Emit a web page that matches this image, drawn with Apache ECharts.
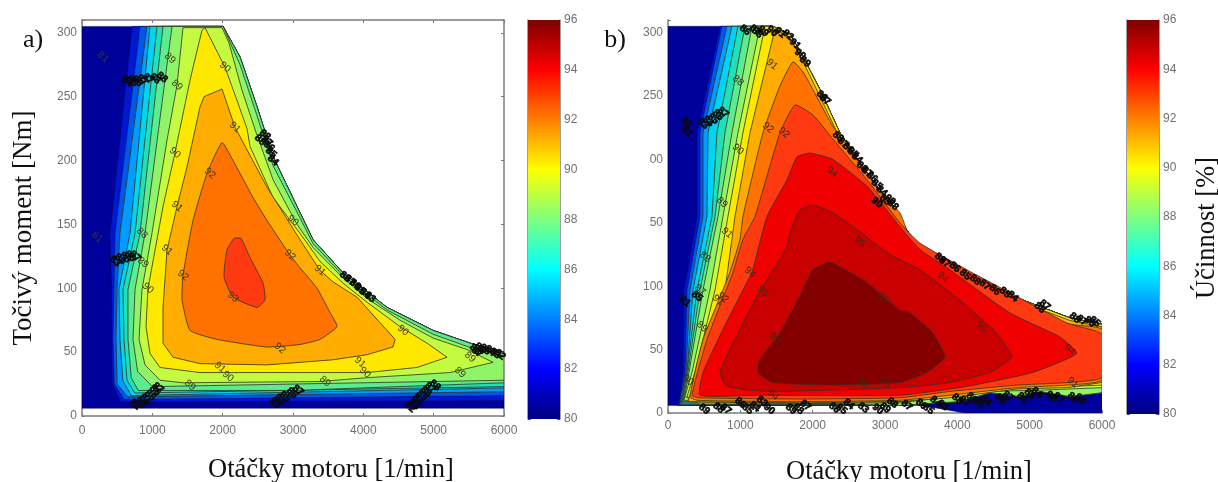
<!DOCTYPE html>
<html><head><meta charset="utf-8">
<style>html,body{margin:0;padding:0;background:#fff}#c{width:1218px;height:482px}#c canvas{filter:blur(0.7px)}</style>
<script src="https://cdn.jsdelivr.net/npm/echarts@6/dist/echarts.min.js"></script>
</head><body><div id="c"></div>
<script>
const rpmTicks=[0,1000,2000,3000,4000,5000,6000];
const barTicks=[80,82,84,86,88,90,92,94,96];
const torqueLabelsA={0:'0',50:'50',100:'100',150:'150',200:'200',250:'250',300:'300'};
const torqueLabelsB={0:'0',50:'50',100:'100',150:'50',200:'00',250:'250',300:'300'};
const jetValues=[80,82,84,86,88,90,92,94,96];

/* ---------- panel a: contour outlines [rpm, Nm] ---------- */
const aEnvelope=[[2005,305],[2247,281],[2489,242],[2716,203],[3100,159],[3285,138],[3711,112],[4337,85],[4991,67],[5517,57],[6000,50]];
const aBase=[[0,305]].concat(aEnvelope,[[6000,6],[0,6]]);
const aEdge82=[[711,305],[398,143],[420,99],[420,60],[430,25],[550,11],[6000,12]];
const aEdge83=[[825,305],[470,143],[455,99],[440,60],[460,25],[600,13],[6000,16]];
const aEdge84=[[924,305],[540,143],[498,99],[484,60],[500,25],[650,15],[6000,19]];
const aEdge85=[[967,305],[683,143],[526,99],[540,60],[580,28],[700,16],[6000,22]];
const aEdge86=[[1066,305],[754,143],[583,99],[597,60],[640,28],[750,18],[6000,23]];
const aEdge87=[[1152,305],[825,143],[654,99],[654,60],[700,30],[800,20],[3000,20],[6000,26]];
const aLine88=[[1280,305],[896,143],[754,99],[725,60],[790,35],[1000,23],[6000,28],[6000,47],[5500,54],[4991,64],[4337,83],[3711,110],[3285,135],[3100,155],[2716,196],[2489,235],[2247,275],[2005,305]];
const aLine89=[[1436,304],[1351,259],[1209,216],[995,143],[853,99],[811,60],[896,40],[1109,28],[1436,26],[3384,27],[4053,30],[5233,34],[5844,42],[5475,52],[4991,61],[4522,75],[4053,92],[3711,108],[3569,116],[3285,132],[3057,150],[2716,185],[2474,222],[2275,255],[2090,292],[1991,304]];
const aLine90=[[1706,302],[1536,263],[1322,206],[1152,164],[1066,138],[939,100],[910,70],[967,49],[1109,38],[1678,34],[3100,34],[4053,34],[4764,38],[5190,46],[4906,57],[4522,70],[4053,89],[3711,104],[3384,121],[3100,143],[2716,171],[2389,211],[2346,225],[2204,247],[2033,273],[1749,304]];
const aLine91=[[1991,256],[1735,250],[1678,242],[1493,195],[1351,164],[1209,130],[1152,85],[1152,57],[1294,46],[1678,41],[2631,40],[3569,44],[4053,48],[4422,54],[4451,60],[4238,73],[3911,93],[3711,100],[3569,105],[3384,114],[3100,138],[2631,179],[2176,226]];
const aLine92=[[1991,214],[1778,190],[1578,153],[1436,110],[1422,91],[1536,67],[1920,60],[2631,54],[3100,56],[3384,60],[3626,70],[3526,81],[3342,100],[3100,116],[2958,126],[2631,153],[2432,171],[2147,200]];
const aLine93=[[2161,139],[2062,130],[2019,109],[2147,93],[2489,85],[2602,91],[2574,104],[2389,124],[2261,139]];

/* ---------- panel b: contour outlines [rpm, Nm] ---------- */
const bEnvelope=[[1451,305],[1686,299],[1866,281],[2101,255],[2377,221],[2695,194],[3027,168],[3386,137],[3801,119],[4270,105],[4768,92],[5183,83],[5556,75],[6000,70]];
const bBase=[[0,305]].concat(bEnvelope,[[6000,0],[4100,0],[3500,6],[0,6]]);
const bWave=[[3206,6],[4035,9],[4450,16],[4865,13],[5141,17],[5556,13],[6000,16]];
const bEdge82=[[719,305],[401,221],[401,155],[221,97],[207,32],[138,6]];
const bEdge83=[[746,305],[442,221],[442,155],[263,97],[235,32],[152,6]];
const bEdge84=[[815,305],[484,221],[484,155],[304,97],[249,32],[166,7]];
const bEdge85=[[884,305],[553,221],[539,155],[346,97],[263,32],[180,7]];
const bEdge86=[[967,305],[677,221],[608,155],[401,97],[263,32],[193,8]];
const bEdge87=[[1064,305],[788,221],[650,155],[442,97],[276,32],[207,9]];
const bEdge88=[[1161,305],[884,221],[691,155],[484,97],[290,32],[221,10]];
const bEdge89=[[1271,305],[967,221],[760,155],[580,97],[332,32],[235,13],[442,7],[3206,8],[4450,17],[5141,18],[6000,20]];
const bEdge90=[[1341,305],[1036,221],[829,155],[650,97],[373,32],[263,13],[442,8],[3206,9],[4450,18],[5141,20],[6000,22]];
const bLine91=[[1479,303],[1686,296],[1852,279],[2073,253],[2349,220],[2667,193],[2999,167],[3358,135],[3801,118],[4270,103],[4768,90],[5183,81],[5556,73],[6000,68],[6000,24],[5514,20],[4823,19],[3897,12],[3206,9],[1824,8],[276,9],[401,32],[788,97],[926,155],[1133,221]];
const bLine92=[[1728,277],[1866,269],[2004,255],[2280,226],[2653,198],[2971,171],[3206,158],[3386,133],[3801,115],[4270,101],[4768,87],[5183,77],[5556,70],[6000,66],[6000,26],[5514,22],[4823,20],[3897,14],[3206,10],[1824,9],[401,10],[304,13],[484,58],[857,111],[995,137],[1036,155],[1313,221],[1548,258]];
const bLine93=[[1755,243],[2004,235],[2280,216],[2750,184],[3206,150],[3483,134],[4132,113],[4823,92],[5514,71],[6000,62],[6000,28],[5514,24],[4823,22],[3897,17],[3206,12],[1824,11],[442,12],[332,14],[539,58],[898,111],[1036,137],[1202,155],[1548,221]];
const bLine94=[[1962,205],[1783,202],[1645,184],[1368,155],[1161,111],[1036,97],[760,66],[484,32],[442,14],[1271,14],[3206,14],[4132,21],[5044,32],[5652,47],[5417,60],[4726,79],[3897,113],[3483,129],[3206,147],[2750,179],[2280,200]];
const bLine95=[[2004,164],[1824,160],[1686,142],[1645,131],[1230,92],[898,55],[719,32],[815,21],[1368,17],[3206,20],[3897,24],[4450,32],[4754,44],[4547,63],[4035,89],[3483,113],[3068,125],[2653,143],[2280,158]];
const bLine96=[[2239,119],[2004,113],[1824,92],[1548,63],[1271,42],[1244,32],[1451,24],[2280,22],[3206,24],[3579,32],[3828,44],[3662,63],[3344,79],[3206,81],[2750,103],[2515,111]];

/* ---------- in-line contour labels [rpm, Nm, text] ---------- */
const aLabels=[[300,281,'81'],[1251,280,'89'],[1351,259,'89'],[1322,206,'90'],[1351,164,'91'],[1820,190,'92'],[2033,273,'90'],[2176,226,'91'],[3000,153,'90'],[853,143,'88'],[213,140,'81'],[867,120,'89'],[939,100,'90'],[1209,130,'91'],[1436,110,'92'],[2147,93,'93'],[2958,126,'92'],[2816,53,'92'],[1962,38,'91'],[2076,31,'90'],[1536,24,'89'],[3384,114,'91'],[4565,67,'90'],[3953,42,'91'],[4024,34,'90'],[3455,27,'89'],[5375,34,'89'],[5517,46,'89']];
const aClusters=[[640,262,'84'],[711,262,'85'],[782,262,'86'],[853,263,'87'],[939,264,'87'],[1038,264,'88'],[1138,265,'88'],[2602,220,'88'],[2531,216,'88'],[2631,215,'87'],[2659,211,'86'],[2688,206,'85'],[2716,200,'84'],[469,121,'83'],[540,123,'84'],[611,124,'85'],[683,125,'86'],[754,125,'87'],[754,9,'82'],[825,10,'83'],[896,13,'84'],[967,16,'85'],[1038,20,'86'],[1081,22,'87'],[2744,10,'83'],[2816,13,'84'],[2887,15,'85'],[2986,18,'86'],[3072,20,'87'],[3740,109,'88'],[3811,106,'87'],[3882,103,'86'],[3953,99,'85'],[4024,96,'84'],[4095,93,'83'],[5588,52,'88'],[5617,50,'87'],[5660,53,'86'],[5731,52,'85'],[5802,51,'84'],[5873,49,'83'],[5944,48,'82'],[4664,7,'82'],[4721,9,'83'],[4778,13,'84'],[4835,16,'85'],[4892,19,'86'],[4949,22,'87'],[5020,24,'88']];
const bLabels=[[1437,275,'91'],[967,262,'88'],[1382,225,'92'],[1603,221,'92'],[967,208,'90'],[746,166,'89'],[2266,190,'94'],[815,142,'91'],[511,123,'88'],[442,97,'87'],[470,68,'89'],[760,91,'92'],[691,89,'91'],[1133,111,'94'],[1313,96,'95'],[1479,59,'96'],[2971,91,'96'],[2653,135,'95'],[2695,24,'96'],[2999,24,'96'],[1451,14,'94'],[276,26,'90'],[3801,107,'94'],[4339,68,'95'],[5556,50,'94'],[5597,24,'91']];
const bClusters=[[1064,302,'86'],[1202,302,'87'],[1230,300,'88'],[1313,301,'89'],[1437,301,'90'],[1548,300,'91'],[1658,298,'92'],[1755,291,'91'],[1824,283,'90'],[1893,277,'89'],[2128,250,'88'],[2170,247,'87'],[2349,218,'88'],[2418,213,'87'],[2488,209,'86'],[2557,205,'85'],[2612,201,'84'],[2681,194,'88'],[2750,190,'87'],[2819,186,'86'],[2888,180,'85'],[2957,175,'84'],[2999,168,'83'],[2888,166,'90'],[3068,168,'89'],[3110,164,'88'],[484,228,'83'],[553,230,'84'],[622,232,'85'],[691,235,'86'],[760,237,'87'],[263,229,'81'],[263,222,'81'],[235,88,'81'],[401,92,'85'],[3759,122,'88'],[3828,119,'87'],[3966,115,'86'],[4105,109,'85'],[4243,105,'88'],[4381,101,'87'],[4519,97,'86'],[4657,95,'85'],[4768,92,'84'],[5141,83,'88'],[5210,85,'87'],[5625,75,'88'],[5721,73,'87'],[5832,72,'86'],[5901,72,'85'],
[500,3,'89'],[700,4,'88'],[800,3,'87'],[1000,8,'86'],[1100,3,'85'],[1200,5,'84'],[1300,9,'83'],[1400,3,'90'],[1700,3,'89'],[1800,3,'88'],[1900,6,'87'],[2300,4,'86'],[2400,3,'85'],[2500,7,'84'],[2700,4,'83'],[2900,3,'90'],[3000,4,'89'],[3100,8,'88'],[3300,6,'87'],[3500,7,'86'],[3600,3,'85'],[3700,9,'84'],[3800,6,'83'],[4000,11,'88'],[4100,9,'87'],[4200,12,'86'],[4300,8,'85'],[4400,10,'84'],[4600,11,'88'],[4700,13,'87'],[4900,12,'86'],[5000,15,'85'],[5100,16,'84'],[5300,13,'88'],[5400,12,'87'],[5600,12,'86'],[5700,11,'85']];

/* ---------- styles ---------- */
const levelColor={80:'#00009a',82:'#0018d0',83:'#0058e8',84:'#009cff',85:'#00d4f0',86:'#20e0b8',87:'#5cec90',88:'#90f468',89:'#c4fa40',90:'#ffe800',91:'#ffac00',92:'#ff7200',93:'#ff3a10',94:'#f00000',95:'#c80000',96:'#840000'};
const jetColor=['#00007f','#0000ff','#007fff','#00ffff','#7fff7f','#ffff00','#ff7f00','#ff0000','#7f0000'];
const sans='"Liberation Sans",Arial,sans-serif', serif='"Liberation Serif","Times New Roman",serif';
const tickGray='#707070', frame='#7c7c7c';

function closed(edge,env){return edge.concat(env.slice().reverse());}
const aContours=[[80,aBase],[82,closed(aEdge82,aEnvelope)],[83,closed(aEdge83,aEnvelope)],[84,closed(aEdge84,aEnvelope)],[85,closed(aEdge85,aEnvelope)],[86,closed(aEdge86,aEnvelope)],[87,closed(aEdge87,aEnvelope)],[88,aLine88],[89,aLine89],[90,aLine90],[91,aLine91],[92,aLine92],[93,aLine93]];
const bWaved=e=>closed(e.concat(bWave),bEnvelope);
const bContours=[[80,bBase],[82,bWaved(bEdge82)],[83,bWaved(bEdge83)],[84,bWaved(bEdge84)],[85,bWaved(bEdge85)],[86,bWaved(bEdge86)],[87,bWaved(bEdge87)],[88,bWaved(bEdge88)],[89,closed(bEdge89,bEnvelope)],[90,closed(bEdge90,bEnvelope)],[91,bLine91],[92,bLine92],[93,bLine93],[94,bLine94],[95,bLine95],[96,bLine96]];

function contourSeries(list,idx){
  return {type:'custom',coordinateSystem:'cartesian2d',xAxisIndex:idx,yAxisIndex:idx,clip:true,silent:true,z:2,
    data:list.map((c,i)=>[i,c[0]]),
    renderItem(p,api){
      const c=list[p.dataIndex];
      return {type:'polygon',shape:{points:c[1].map(q=>api.coord(q)),smooth:c[0]>=92?0.15:0},
        style:{fill:levelColor[c[0]],stroke:c[0]>=84?'rgba(50,50,30,.8)':'rgba(0,0,60,.4)',lineWidth:1,lineJoin:'round'}};
    }};
}
function textSeries(list,idx,size,weight,color,halo){
  return {type:'custom',coordinateSystem:'cartesian2d',xAxisIndex:idx,yAxisIndex:idx,silent:true,z:5,clip:false,
    data:list,
    renderItem(p,api){
      const pt=api.coord([api.value(0),api.value(1)]);
      return {type:'text',x:pt[0],y:pt[1],rotation:-0.7,style:{text:String(list[p.dataIndex][2]),fill:color,stroke:halo?color:null,lineWidth:halo?0.6:0,font:weight+' '+size+'px '+sans,align:'center',verticalAlign:'middle'}};
    }};
}
function barSeries(idx){
  return {type:'custom',coordinateSystem:'cartesian2d',xAxisIndex:idx,yAxisIndex:idx,silent:true,z:2,
    data:[[0,jetValues[0],1,jetValues[jetValues.length-1]]],
    renderItem(p,api){
      const a=api.coord([0,api.value(1)]),b=api.coord([1,api.value(3)]);
      const stops=jetValues.map((v,i)=>({offset:(v-80)/16,color:jetColor[i]}));
      return {type:'rect',shape:{x:a[0],y:b[1],width:b[0]-a[0],height:a[1]-b[1]},
        style:{fill:new echarts.graphic.LinearGradient(0,1,0,0,stops)}};
    }};
}
const tickFont={color:tickGray,fontSize:12,fontFamily:sans};
function xAxis(gi,margin,top){return {type:'value',gridIndex:gi,min:0,max:6000,interval:1000,position:top?'top':'bottom',
  axisLine:{show:true,onZero:false,lineStyle:{color:frame,width:1.5}},axisTick:{show:true,inside:true,length:3,lineStyle:{color:frame}},
  splitLine:{show:false},axisLabel:top?{show:false}:Object.assign({margin:margin,formatter:v=>String(v)},tickFont)};}
function yAxis(gi,labels,right){return {type:'value',gridIndex:gi,min:0,max:310,interval:50,position:right?'right':'left',
  axisLine:{show:true,onZero:false,lineStyle:{color:frame,width:1.5}},axisTick:{show:true,inside:true,length:3,lineStyle:{color:frame}},
  splitLine:{show:false},axisLabel:right?{show:false}:Object.assign({margin:5,formatter:v=>labels[v]===undefined?'':labels[v]},tickFont)};}
function barX(gi){return {type:'value',gridIndex:gi,min:0,max:1,show:false,splitLine:{show:false}};}
function barY(gi,right,m){return {type:'value',gridIndex:gi,min:80,max:96,interval:2,position:right?'right':'left',
  axisLine:{show:true,onZero:false,lineStyle:{color:frame,width:1.5}},axisTick:{show:true,inside:true,length:3,lineStyle:{color:'#555'}},splitLine:{show:false},
  axisLabel:right?Object.assign({margin:m},tickFont):{show:false}};}
function caption(text,x,y,size,rot){return {type:'text',x:x,y:y,rotation:rot||0,z:10,style:{text:text,fill:'#111',font:size+'px '+serif,align:'center',verticalAlign:'middle'}};}

const chart=echarts.init(document.getElementById('c'),null,{renderer:'canvas'});
chart.setOption({
  animation:false,backgroundColor:'#fff',
  grid:[
    {left:82,top:20,width:422,height:396},
    {left:668,top:20,width:434,height:393},
    {left:528,top:20,width:32,height:399},
    {left:1127,top:20,width:32,height:394}
  ],
  xAxis:[xAxis(0,9),xAxis(1,7),barX(2),barX(3),xAxis(0,0,true)],
  yAxis:[yAxis(0,torqueLabelsA),yAxis(1,torqueLabelsB),barY(2,true,4),barY(3,true,4),yAxis(0,torqueLabelsA,true),barY(2,false),barY(3,false)],
  series:[
    contourSeries(aContours,0),
    contourSeries(bContours,1),
    textSeries(aLabels,0,10,'normal','#3a3a22'),
    textSeries(bLabels,1,10,'normal','#3a2a12'),
    textSeries(aClusters,0,10,'bold','#0a0a0a',true),
    textSeries(bClusters,1,10,'bold','#0a0a0a',true),
    barSeries(2),
    barSeries(3)
  ],
  graphic:[
    caption('a)',33,40,26),caption('b)',615,40,26),
    caption('Otáčky motoru [1/min]',331,470,26.5),
    caption('Otáčky motoru [1/min]',909,472,26.5),
    caption('Točivý moment [Nm]',24,228,27,Math.PI/2),
    caption('Účinnost [%]',1207,228,26.5,Math.PI/2)
  ]
});
</script></body></html>
